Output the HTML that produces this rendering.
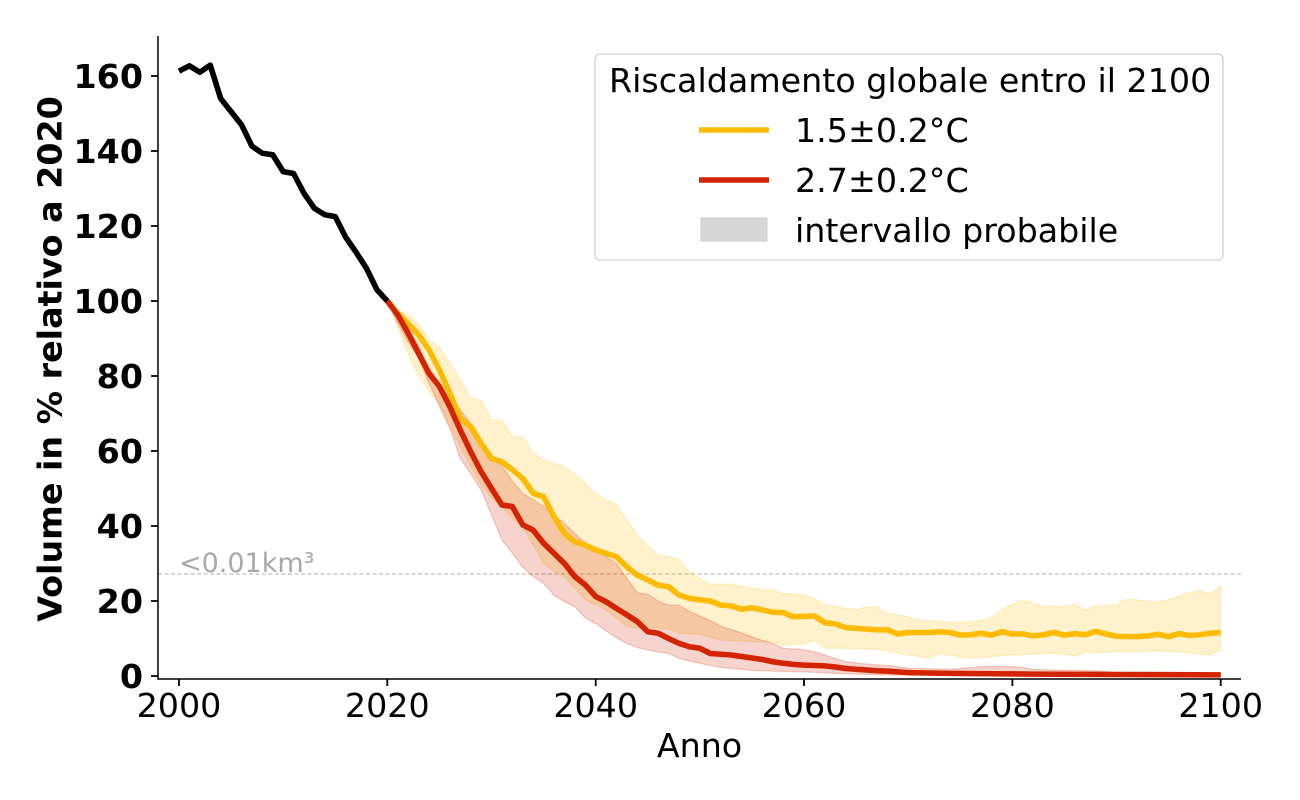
<!DOCTYPE html>
<html>
<head>
<meta charset="utf-8">
<style>
html,body{margin:0;padding:0;background:#fff;}
svg{display:block;}
text{font-family:"DejaVu Sans","Liberation Sans",sans-serif;}
</style>
</head>
<body>
<svg width="1300" height="800" viewBox="0 0 1300 800" xmlns="http://www.w3.org/2000/svg">
<rect x="0" y="0" width="1300" height="800" fill="#fff"/>

<!-- dashed threshold line -->
<line x1="158" y1="574" x2="1241" y2="574" stroke="#bdbdbd" stroke-width="1.2" stroke-dasharray="4,2.5"/>
<text x="179" y="572" font-size="27" fill="#a8a8a8">&lt;0.01km³</text>

<g transform="translate(179,676) scale(10.417,-3.75)">
  <!-- yellow band -->
  <polygon fill="#FDBB00" fill-opacity="0.2" stroke="#FDBB00" stroke-opacity="0.2" stroke-width="1.3" vector-effect="non-scaling-stroke" stroke-linejoin="round"
  points="20,100 21,97.5 22,96.3 23,94 24,89.6 25,87.8 26,83.4 27,79 28,74 29,73.6 30,68.3 31,68.3 32,63.8 33,63.8 34,59.4 35,57.6 36,56.7 37,55.8 38,53.6 39,51.4 40,48.7 41,46.9 42,45.6 43,41.6 44,37.6 45,34.5 46,32.3 47,31.8 48,31 49,27.8 50,26 51,24.4 52,24.5 53,24.5 54,24 55,23.4 56,23 57,22.9 58,22 59,21.9 60,21.5 61,20.7 62,19 63,18.5 64,18.1 65,17.6 66,18.5 67,18.3 68,16.7 69,16.2 70,15.8 71,14.9 72,14.7 73,14.5 74,14.3 75,14.2 76,14.5 77,14.8 78,15.6 79,17.6 80,19.2 81,20.1 82,19.5 83,18.5 84,18.6 85,18.5 86,19.2 87,17.6 88,18.8 89,18.8 90,18.9 91,20.5 92,20.3 93,19.9 94,19.6 95,20.4 96,21.2 97,22.2 98,22.7 99,22.1 100,24 100,7 99,5.6 98,5.8 97,6.1 96,6.5 95,6.6 94,6.7 93,6.6 92,6.5 91,6.5 90,6.5 89,6.4 88,6.3 87,6.2 86,5.3 85,5.8 84,6.1 83,6 82,5.8 81,5.7 80,5.6 79,5.4 78,5.2 77,4.9 76,4.8 75,5.1 74,5.6 73,6.1 72,4.7 71,5.2 70,5.6 69,6.1 68,6.6 67,7.1 66,7.2 65,7.3 64,7.4 63,7.4 62,7.4 61,9.6 60,8.5 59,8.5 58,8.3 57,9 56,9.1 55,9.2 54,9.3 53,9.4 52,9.6 51,10.3 50,11.1 49,11.2 48,11.4 47,12.5 46,12.7 45,13.2 44,12.8 43,13.2 42,15.5 41,17.6 40,19 39,20.3 38,23.5 37,26.5 36,28 35,30 34,35 33,39.8 32,42 31,45 30,47.5 29,51 28,56 27,61 26,67 25,72.5 24,76 23,80 22,86 21,93 20,100"/>
  <!-- red band -->
  <polygon fill="#D42300" fill-opacity="0.2" stroke="#D42300" stroke-opacity="0.2" stroke-width="1.3" vector-effect="non-scaling-stroke" stroke-linejoin="round"
  points="20,100 21,97 22,93 23,88 24,82 25,78 26,74 27,71 28,67.4 29,63 30,58.5 31,56 32,52 33,48.7 34,47 35,45.2 36,43 37,40.7 38,38 39,35.4 40,33.5 41,31.8 42,30 43,26 44,22.2 45,21.8 46,20 47,18.9 48,18.9 49,17.2 50,16 51,14.8 52,13.3 53,12.4 54,11.5 55,10.4 56,9.5 57,8.7 58,7.4 59,7.2 60,7 61,6.5 62,5.6 63,4.7 64,3.8 65,3.5 66,3.2 67,3 68,2.8 69,2.5 70,2.1 72,1.9 74,1.8 76,2.2 77,2.5 80,2.5 81,2.3 82,1.8 84,1.6 88,1.4 89,1.2 90,0.9 100,0.7 100,0.1 75,0.15 67,0.3 63,0.7 60,1.1 58,1.2 56,1.4 55,1.5 54,1.8 53,2 52,2.3 51,2.8 50,3.4 49,4 48,4.7 47,6 46,6.4 45,6.9 44,7.6 43,8.7 42,10.2 41,12 40,14 39,15.5 38,18.5 37,19.8 36,21.5 35,24.7 34,26.5 33,29 32,32.7 31,36.3 30,43 29,49.6 28,54 27,58 26,66 25,72 24,78 23,85 22,89 21,94 20,100"/>
  <!-- yellow line -->
  <polyline fill="none" stroke="#FDBB00" stroke-width="5.6" vector-effect="non-scaling-stroke" stroke-linejoin="round"
  points="20,100 21,96.7 22,94 23,91 24,87 25,81.6 26,75.4 27,68.7 28,66.5 29,62 30,58 31,57.1 32,55 33,52.7 34,48.7 35,47.8 36,42.5 37,38 38,35.8 39,34.9 40,33.6 41,32.7 42,31.8 43,29.1 44,26.9 45,25.6 46,24.2 47,23.8 48,21.6 49,20.7 50,20.3 51,20 52,18.9 53,18.7 54,17.8 55,18.2 56,17.6 57,17 58,16.9 59,15.8 60,15.9 61,16 62,14.2 63,13.9 64,12.9 65,12.7 66,12.5 67,12.3 68,12.3 69,11.2 70,11.6 71,11.6 72,11.6 73,11.8 74,11.6 75,10.9 76,11 77,11.4 78,10.9 79,11.8 80,11.2 81,11.2 82,10.7 83,11 84,11.6 85,10.9 86,11.3 87,11 88,11.9 89,11.2 90,10.6 91,10.5 92,10.5 93,10.7 94,11.1 95,10.5 96,11.3 97,10.8 98,11 99,11.4 100,11.6"/>
  <!-- red line -->
  <polyline fill="none" stroke="#D42300" stroke-width="5.6" vector-effect="non-scaling-stroke" stroke-linejoin="round"
  points="20,100 21,96.3 22,91.4 23,86 24,80.7 25,77.2 26,71.8 27,65.6 28,59.8 29,54.5 30,50 31,45.6 32,45.2 33,40.3 34,38.9 35,35.4 36,32.7 37,30 38,26.5 39,24.3 40,21.2 41,19.8 42,18 43,16.3 44,14.5 45,11.8 46,11.4 47,10 48,8.7 49,7.8 50,7.4 51,6 52,5.8 53,5.6 54,5.2 55,4.8 56,4.4 57,3.8 58,3.4 59,3.1 60,2.9 61,2.8 62,2.7 63,2.4 64,2 65,1.8 66,1.6 67,1.4 68,1.3 69,1.1 70,0.9 72,0.8 74,0.7 78,0.6 82,0.5 90,0.4 100,0.3"/>
  <!-- black historical line -->
  <polyline fill="none" stroke="#000" stroke-width="5.6" vector-effect="non-scaling-stroke" stroke-linejoin="round"
  points="0,161.3 1,162.7 2,161 3,162.9 4,154 5,150.5 6,147 7,141.3 8,139.4 9,139 10,134.5 11,134 12,128.7 13,124.7 14,123 15,122.5 16,117 17,113 18,108.7 19,103 20,100"/>
</g>

<!-- spines -->
<line x1="158" y1="36" x2="158" y2="679.5" stroke="#000" stroke-width="1.5"/>
<line x1="157.3" y1="679" x2="1241" y2="679" stroke="#000" stroke-width="1.5"/>

<!-- y ticks -->
<g stroke="#000" stroke-width="1.8">
  <line x1="151" y1="676" x2="158" y2="676"/>
  <line x1="151" y1="601" x2="158" y2="601"/>
  <line x1="151" y1="526" x2="158" y2="526"/>
  <line x1="151" y1="451" x2="158" y2="451"/>
  <line x1="151" y1="376" x2="158" y2="376"/>
  <line x1="151" y1="301" x2="158" y2="301"/>
  <line x1="151" y1="226" x2="158" y2="226"/>
  <line x1="151" y1="151" x2="158" y2="151"/>
  <line x1="151" y1="76" x2="158" y2="76"/>
</g>
<g font-size="33.3" font-weight="bold" text-anchor="end" fill="#000">
  <text x="143" y="688">0</text>
  <text x="143" y="613">20</text>
  <text x="143" y="538">40</text>
  <text x="143" y="463">60</text>
  <text x="143" y="388">80</text>
  <text x="143" y="313">100</text>
  <text x="143" y="238">120</text>
  <text x="143" y="163">140</text>
  <text x="143" y="88">160</text>
</g>

<!-- x ticks -->
<g stroke="#000" stroke-width="1.8">
  <line x1="179" y1="679" x2="179" y2="686"/>
  <line x1="387.3" y1="679" x2="387.3" y2="686"/>
  <line x1="595.7" y1="679" x2="595.7" y2="686"/>
  <line x1="804" y1="679" x2="804" y2="686"/>
  <line x1="1012.4" y1="679" x2="1012.4" y2="686"/>
  <line x1="1220.7" y1="679" x2="1220.7" y2="686"/>
</g>
<g font-size="33.3" text-anchor="middle" fill="#000">
  <text x="179" y="717">2000</text>
  <text x="387.3" y="717">2020</text>
  <text x="595.7" y="717">2040</text>
  <text x="804" y="717">2060</text>
  <text x="1012.4" y="717">2080</text>
  <text x="1220.7" y="717">2100</text>
</g>

<!-- axis labels -->
<text x="699.5" y="757" font-size="33.3" text-anchor="middle" fill="#000">Anno</text>
<text transform="translate(61.5,359) rotate(-90)" x="0" y="0" font-size="33.3" font-weight="bold" text-anchor="middle" fill="#000">Volume in % relativo a 2020</text>

<!-- legend -->
<rect x="595" y="54" width="628" height="206" rx="5" ry="5" fill="#fff" fill-opacity="0.8" stroke="#d0d0d0" stroke-width="1.3"/>
<text x="609" y="92" font-size="33.3" fill="#000">Riscaldamento globale entro il 2100</text>
<line x1="699" y1="130" x2="769" y2="130" stroke="#FDBB00" stroke-width="5.6"/>
<text x="795" y="142" font-size="33.3" fill="#000">1.5±0.2°C</text>
<line x1="699" y1="180" x2="769" y2="180" stroke="#D42300" stroke-width="5.6"/>
<text x="795" y="192" font-size="33.3" fill="#000">2.7±0.2°C</text>
<rect x="701" y="218" width="66" height="23" fill="#d6d6d6" stroke="#cccccc" stroke-width="1"/>
<text x="795" y="242" font-size="33.3" fill="#000">intervallo probabile</text>
</svg>
</body>
</html>
